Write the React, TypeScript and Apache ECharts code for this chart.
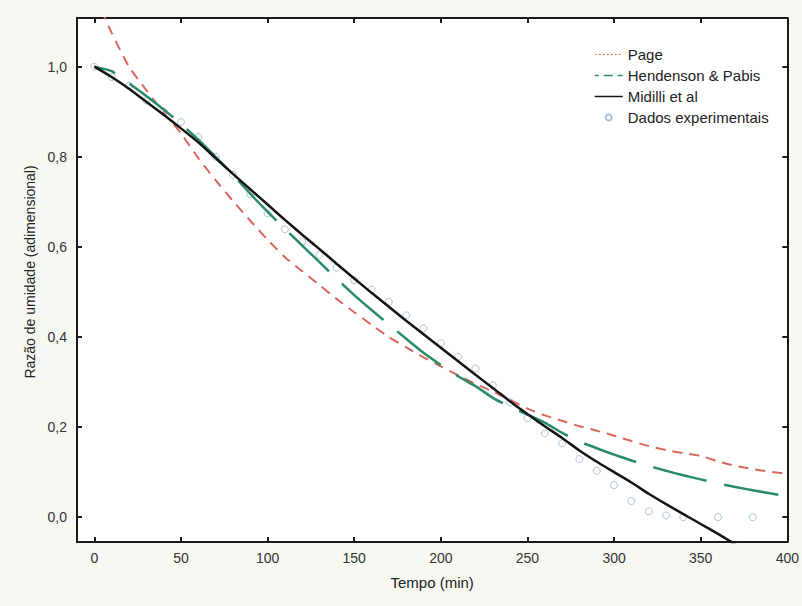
import React, { useEffect, useRef } from "react";
import * as echarts from "echarts";

const modelTime = [0, 10, 20, 30, 40, 50, 60, 70, 80, 90, 100, 110, 120, 130, 140, 150, 160, 170, 180, 190, 200, 210, 220, 230, 240, 250, 260, 270, 280, 290, 300, 310, 320, 330, 340, 350, 360, 370, 380, 390, 400];

const pageMR = [1.16, 1.075, 1.0, 0.948, 0.898, 0.852, 0.797, 0.748, 0.702, 0.658, 0.616, 0.577, 0.546, 0.515, 0.484, 0.455, 0.427, 0.4, 0.377, 0.355, 0.335, 0.315, 0.296, 0.279, 0.26, 0.241, 0.226, 0.214, 0.202, 0.192, 0.181, 0.169, 0.158, 0.149, 0.142, 0.136, 0.124, 0.114, 0.107, 0.101, 0.096];

const hendersonMR = [1.0, 0.99, 0.963, 0.935, 0.905, 0.873, 0.838, 0.8, 0.76, 0.718, 0.678, 0.64, 0.603, 0.566, 0.529, 0.493, 0.46, 0.428, 0.396, 0.365, 0.338, 0.313, 0.291, 0.265, 0.245, 0.228, 0.21, 0.187, 0.168, 0.153, 0.139, 0.126, 0.114, 0.103, 0.093, 0.084, 0.075, 0.067, 0.06, 0.053, 0.047];

const midilliMR = [1.0, 0.977, 0.951, 0.922, 0.893, 0.863, 0.832, 0.797, 0.762, 0.728, 0.694, 0.66, 0.627, 0.595, 0.562, 0.53, 0.498, 0.467, 0.436, 0.406, 0.376, 0.346, 0.316, 0.287, 0.257, 0.229, 0.202, 0.176, 0.148, 0.123, 0.1, 0.077, 0.052, 0.029, 0.007, -0.015, -0.037, -0.06, -0.082];

const expTime = [0, 10, 20, 30, 40, 50, 60, 70, 80, 90, 100, 110, 120, 130, 140, 150, 160, 170, 180, 190, 200, 210, 220, 230, 240, 250, 260, 270, 280, 290, 300, 310, 320, 330, 340, 360, 380];
const expMR = [1.0, 0.977, 0.958, 0.925, 0.9, 0.877, 0.844, 0.8, 0.76, 0.717, 0.674, 0.639, 0.611, 0.582, 0.554, 0.526, 0.505, 0.478, 0.448, 0.419, 0.386, 0.356, 0.33, 0.293, 0.255, 0.22, 0.186, 0.164, 0.129, 0.103, 0.071, 0.036, 0.013, 0.004, 0.0, 0.0, 0.0];

const xTicks = [0, 50, 100, 150, 200, 250, 300, 350, 400];
const yTicks = [0, 0.2, 0.4, 0.6, 0.8, 1.0];

const seriesNames = ["Page", "Hendenson & Pabis", "Midilli et al", "Dados experimentais"];
const xTitle = "Tempo (min)";
const yTitle = "Razão de umidade (adimensional)";

const FONT = "'Liberation Sans', Arial, Helvetica, sans-serif";

const pairs = (xs: number[], ys: number[]) => ys.map((y, i) => [xs[i], y]);

export default function App() {
  const ref = useRef<HTMLDivElement>(null);
  useEffect(() => {
    if (!ref.current) return;
    const chart = echarts.init(ref.current, undefined, { renderer: "svg" });
    const fmt = (v: number) => v.toFixed(1).replace(".", ",");
    const axisCommon = {
      type: "value" as const,
      splitLine: { show: false },
      axisLine: { show: true, onZero: false, lineStyle: { color: "#1a1a1a", width: 2 } },
    };
    const noSymbol = { color: "rgba(0,0,0,0)", borderColor: "rgba(0,0,0,0)", borderWidth: 0 };
    chart.setOption({
      animation: false,
      backgroundColor: "#f8f8f3",
      textStyle: { fontFamily: FONT },
      grid: { left: 77, top: 18, right: 6, bottom: 64, show: true, backgroundColor: "#ffffff", borderWidth: 0 },
      legend: {
        orient: "vertical",
        left: 594,
        top: 47,
        padding: 0,
        itemWidth: 28,
        itemHeight: 6,
        itemGap: 6,
        textStyle: { fontSize: 15, color: "#222", fontFamily: FONT, lineHeight: 15 },
        data: [
          { name: seriesNames[0], itemStyle: noSymbol, lineStyle: { type: [2, 2], width: 1 } },
          { name: seriesNames[1], itemStyle: noSymbol, lineStyle: { type: [9, 5], width: 1.5 } },
          { name: seriesNames[2], itemStyle: noSymbol, lineStyle: { width: 1.5 } },
          { name: seriesNames[3], icon: "circle" },
        ],
      },
      xAxis: [
        {
          ...axisCommon,
          position: "bottom",
          min: -10,
          max: 400,
          name: xTitle,
          nameLocation: "middle",
          nameGap: 33,
          nameTextStyle: { fontSize: 15, color: "#222", fontFamily: FONT },
          axisTick: { show: true, inside: true, length: 5, customValues: xTicks, lineStyle: { color: "#1a1a1a", width: 2 } },
          axisLabel: { show: true, customValues: xTicks, margin: 9, fontSize: 14, color: "#333", fontFamily: FONT, showMaxLabel: true },
        },
        {
          ...axisCommon,
          position: "top",
          min: -10,
          max: 400,
          axisTick: { show: true, inside: true, length: 5, customValues: xTicks, lineStyle: { color: "#1a1a1a", width: 2 } },
          axisLabel: { show: false },
        },
      ],
      yAxis: [
        {
          ...axisCommon,
          position: "left",
          min: -0.055,
          max: 1.108,
          axisTick: { show: true, inside: true, length: 5, customValues: yTicks, lineStyle: { color: "#1a1a1a", width: 2 } },
          axisLabel: { show: true, customValues: yTicks, margin: 10, fontSize: 14, color: "#333", fontFamily: FONT, formatter: fmt },
        },
        {
          ...axisCommon,
          position: "right",
          min: -0.055,
          max: 1.108,
          axisTick: { show: true, inside: true, length: 5, customValues: yTicks, lineStyle: { color: "#1a1a1a", width: 2 } },
          axisLabel: { show: false },
        },
      ],
      graphic: [
        {
          type: "text",
          x: 30,
          y: 272,
          rotation: Math.PI / 2,
          style: { text: yTitle, fontSize: 14, fill: "#222", fontFamily: FONT, textAlign: "center", textVerticalAlign: "middle" },
        },
      ],
      series: [
        {
          name: seriesNames[3],
          type: "scatter",
          xAxisIndex: 0,
          yAxisIndex: 0,
          symbol: "circle",
          symbolSize: 7,
          z: 1,
          itemStyle: { color: "rgba(0,0,0,0)", borderColor: "#92b4d4", borderWidth: 1 },
          data: pairs(expTime, expMR),
        },
        {
          name: seriesNames[0],
          type: "line",
          xAxisIndex: 0,
          yAxisIndex: 0,
          symbol: "none",
          smooth: 0.2,
          clip: true,
          z: 3,
          lineStyle: { color: "#d8685d", width: 2, type: [10, 7] },
          itemStyle: { color: "#d8685d" },
          data: pairs(modelTime, pageMR),
        },
        {
          name: seriesNames[1],
          type: "line",
          xAxisIndex: 0,
          yAxisIndex: 0,
          symbol: "none",
          smooth: 0.2,
          clip: true,
          z: 3,
          lineStyle: { color: "#2a8a66", width: 2.5, type: [55, 18], dashOffset: 33 },
          itemStyle: { color: "#2a8a66" },
          data: pairs(modelTime, hendersonMR),
        },
        {
          name: seriesNames[2],
          type: "line",
          xAxisIndex: 0,
          yAxisIndex: 0,
          symbol: "none",
          smooth: 0.2,
          clip: true,
          z: 4,
          lineStyle: { color: "#141414", width: 2.5 },
          itemStyle: { color: "#141414" },
          data: pairs(modelTime, midilliMR),
        },
      ],
    });
    return () => chart.dispose();
  }, []);
  return <div ref={ref} style={{ position: "fixed", left: 0, top: 0, width: 802, height: 606 }} />;
}
